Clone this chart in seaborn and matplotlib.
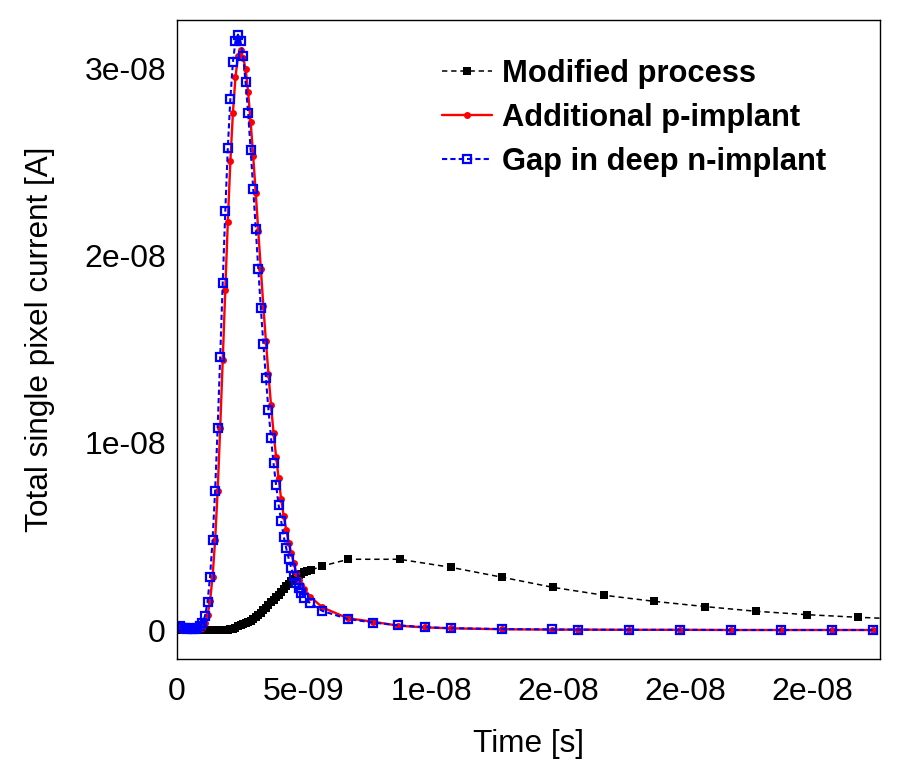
import numpy as np
import pandas as pd
import matplotlib
matplotlib.use("Agg")
import matplotlib.pyplot as plt
from matplotlib.ticker import FixedLocator, FixedFormatter, MultipleLocator, FuncFormatter
import seaborn as sns

# time in ns, current in nA (converted to s / A below)
t_dense = [0.0, 0.1, 0.2, 0.3, 0.4, 0.5, 0.6, 0.7, 0.8, 0.9,
           1.0, 1.1, 1.2, 1.3, 1.4, 1.5, 1.6, 1.7, 1.8, 1.9,
           2.0, 2.1, 2.2, 2.3, 2.4, 2.5, 2.6, 2.7, 2.8, 2.9,
           3.0, 3.1, 3.2, 3.3, 3.4, 3.5, 3.6, 3.7, 3.8, 3.9,
           4.0, 4.1, 4.2, 4.3, 4.4, 4.5, 4.6, 4.7, 4.8, 4.9, 5.0]
t_tail = [5.25, 5.72, 6.72, 7.72, 8.72, 9.75, 10.77, 12.78, 14.78, 15.78,
          17.78, 19.8, 21.8, 23.8, 25.8, 27.4]

# Modified process
t_mod = t_dense + [5.1, 5.27, 5.72, 6.75, 8.76, 10.78, 12.8, 14.8, 16.8, 18.8,
                   20.8, 22.8, 24.8, 26.8, 28.8]
i_mod = [0.0, 0.0, 0.0, 0.0, 0.0, 0.0, 0.0, 0.0, 0.0, 0.0,
         0.0, 0.0, 0.0, 0.0, 0.0, 0.0, 0.0, 0.0, 0.01, 0.01,
         0.02, 0.04, 0.08, 0.13, 0.19, 0.25, 0.31, 0.36, 0.41, 0.48,
         0.57, 0.68, 0.80, 0.93, 1.06, 1.20, 1.34, 1.48, 1.62, 1.75,
         1.88, 2.02, 2.17, 2.33, 2.48, 2.60, 2.72, 2.83, 2.93, 3.01, 3.08,
         3.13, 3.20, 3.42, 3.78, 3.78, 3.35, 2.82, 2.28, 1.86, 1.53,
         1.25, 1.00, 0.82, 0.68, 0.57]

# Additional p-implant
t_pimp = t_dense + t_tail
i_pimp = [0.05, 0.03, 0.02, 0.02, 0.01, 0.01, 0.01, 0.02, 0.02, 0.05,
          0.12, 0.35, 0.80, 1.55, 2.85, 4.81, 7.45, 10.82, 14.44, 18.18,
          21.83, 25.04, 27.63, 29.53, 30.66, 31.02, 30.59, 30.00, 28.73, 27.13,
          25.31, 23.35, 21.30, 19.29, 17.29, 15.42, 13.69, 12.03, 10.55, 9.27,
          8.11, 6.99, 6.10, 5.35, 4.64, 4.10, 3.57, 3.03, 2.67, 2.41, 2.19,
          1.78, 1.21, 0.63, 0.44, 0.23, 0.14, 0.09, 0.04, 0.02, 0.02,
          0.01, 0.01, 0.0, 0.0, 0.0, 0.0]

# Gap in deep n-implant
t_gap = t_dense + t_tail
i_gap = [0.15, 0.20, 0.10, 0.12, 0.05, 0.10, 0.08, 0.05, 0.10, 0.20,
         0.36, 0.75, 1.48, 2.85, 4.81, 7.45, 10.82, 14.61, 18.57, 22.37,
         25.76, 28.40, 30.34, 31.46, 31.82, 31.46, 30.70, 29.27, 27.63, 25.63,
         23.57, 21.43, 19.29, 17.20, 15.28, 13.46, 11.76, 10.28, 8.91, 7.75,
         6.68, 5.83, 4.99, 4.37, 3.80, 3.30, 2.89, 2.53, 2.23, 1.96, 1.73,
         1.43, 1.02, 0.59, 0.40, 0.25, 0.15, 0.10, 0.05, 0.03, 0.02,
         0.01, 0.01, 0.0, 0.0, 0.0, 0.0]

x_ticks = [0, 5e-09, 1e-08, 1.5e-08, 2e-08, 2.5e-08]
x_ticklabels = ["0", "5e-09", "1e-08", "2e-08", "2e-08", "2e-08"]
y_ticks = [0, 1e-08, 2e-08, 3e-08]


def to_df(t, i):
    return pd.DataFrame({"time": np.array(t) * 1e-9, "current": np.array(i) * 1e-9})


sns.set_theme(style="white")
plt.rcParams["font.family"] = ["Liberation Sans", "DejaVu Sans"]
plt.rcParams["text.color"] = "black"
plt.rcParams["axes.labelcolor"] = "black"

fig = plt.figure(figsize=(9, 7.81), dpi=100)
ax = fig.add_axes([0.1967, 0.1562, 0.7811, 0.8182])

sns.lineplot(data=to_df(t_mod, i_mod), x="time", y="current", ax=ax, estimator=None,
             color="black", linestyle=(0, (3.5, 2.5)), linewidth=1.1,
             marker="s", markersize=5.5, markeredgewidth=0, label="Modified process")
sns.lineplot(data=to_df(t_pimp, i_pimp), x="time", y="current", ax=ax, estimator=None,
             color="#ff0000", linestyle="-", linewidth=1.7,
             marker="o", markersize=5, markeredgewidth=0, label="Additional p-implant")
sns.lineplot(data=to_df(t_gap, i_gap), x="time", y="current", ax=ax, estimator=None,
             color="#0000ff", linestyle=(0, (2.5, 1.5)), linewidth=1.5,
             marker="s", markersize=6, markerfacecolor="none",
             markeredgecolor="#0000ff", markeredgewidth=1.6, label="Gap in deep n-implant")

ax.set_xlim(0, 2.768e-08)
ax.set_ylim(-1.55e-09, 3.26e-08)

ax.xaxis.set_major_locator(FixedLocator(x_ticks))
ax.xaxis.set_major_formatter(FixedFormatter(x_ticklabels))
ax.xaxis.set_minor_locator(MultipleLocator(1e-09))
ax.yaxis.set_major_locator(FixedLocator(y_ticks))
ax.yaxis.set_major_formatter(FuncFormatter(lambda v, p: "0" if v == 0 else f"{v:.0e}"))
ax.yaxis.set_minor_locator(MultipleLocator(1e-09))

ax.tick_params(axis="both", which="both", direction="in", top=False, right=False,
               colors="black", labelsize=23, width=1)
ax.tick_params(axis="y", which="major", length=13)
ax.tick_params(axis="y", which="minor", length=6.5)
ax.tick_params(axis="x", which="major", length=10, pad=13)
ax.tick_params(axis="x", which="minor", length=6.5)
ax.tick_params(axis="y", which="major", pad=8)

for s in ax.spines.values():
    s.set_color("black")
    s.set_linewidth(1.0)

ax.set_xlabel("Time [s]", fontsize=22.7, labelpad=16, color="black")
ax.set_ylabel("Total single pixel current [A]", fontsize=22.7, labelpad=21, color="black")

leg = ax.legend(loc="upper left", bbox_to_anchor=(442 / 900, 1 - 59 / 781),
                bbox_transform=fig.transFigure, frameon=False, borderpad=0,
                borderaxespad=0, handlelength=1.62, handletextpad=0.32,
                labelspacing=0.45, numpoints=1, prop={"size": 22.2, "weight": "bold"})
for txt in leg.get_texts():
    txt.set_color("black")

fig.savefig("out.png", dpi=100)
